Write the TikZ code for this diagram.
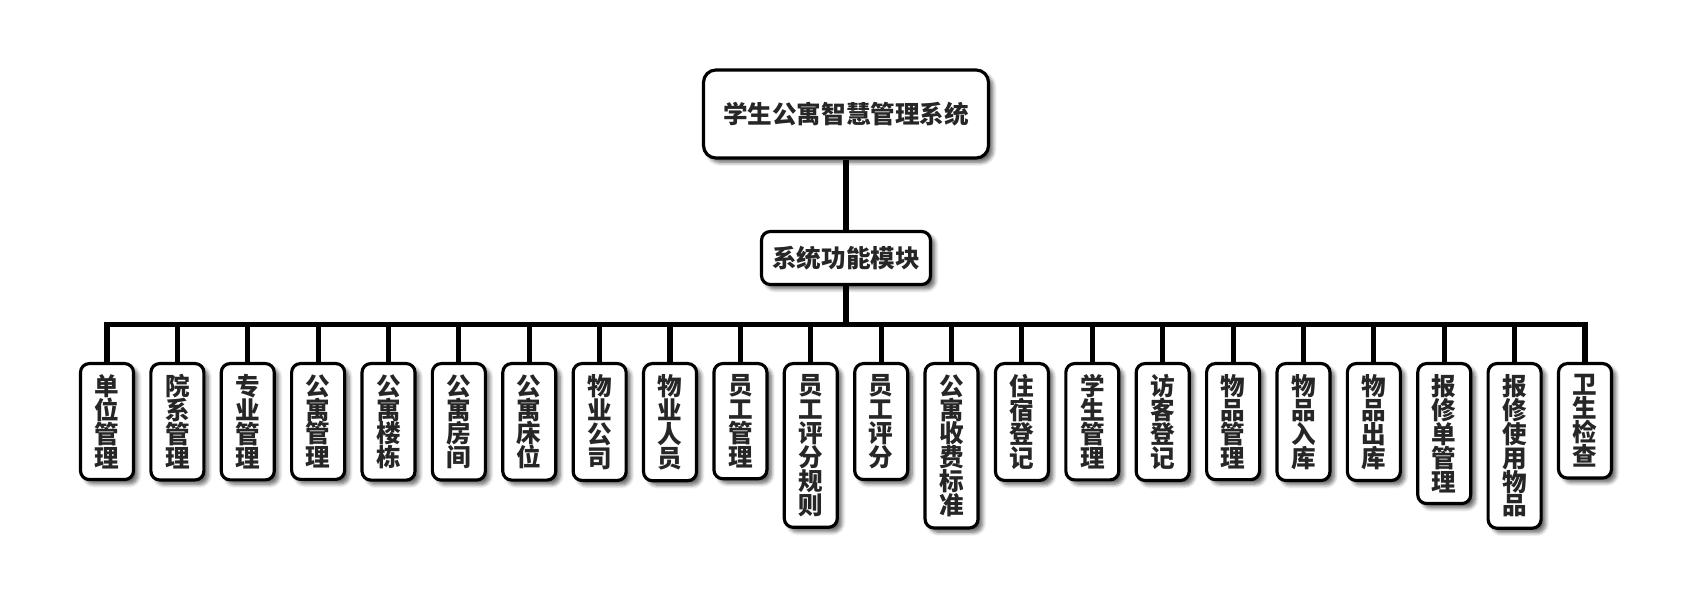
\documentclass[tikz,border=0pt]{standalone}
\usepackage{fontspec}
\setmainfont{Noto Sans CJK SC}
\usepackage{tikz}
\usetikzlibrary{shadows.blur}
\tikzset{
	box/.style={draw=black,fill=white,line width=1.8pt,rounded corners=5pt,text=black!85,font=\fontsize{14pt}{13.6pt}\selectfont\bfseries,blur shadow={shadow xshift=2.5pt,shadow yshift=-2.5pt,shadow blur steps=6,shadow opacity=60}},
	leaf/.style={box,anchor=north,align=center,minimum width=1.06cm,inner xsep=0pt,inner ysep=6.2pt},
	link/.style={line width=2.9pt}
}

\begin{document}
\begin{tikzpicture}[x=0.02cm,y=-0.02cm]
	\useasboundingbox (0,0) rectangle (1691,607);
	\node [box,rounded corners=7pt,minimum width=5.7cm,minimum height=1.76cm] (root) at (846,114) {学生公寓智慧管理系统};
	\node [box,minimum width=3.38cm,minimum height=1.06cm] (mid) at (846,258) {系统功能模块};
	\draw [link] (root.south) -- (mid.north);
	\foreach \t [count=\i] in {单\\位\\管\\理,院\\系\\管\\理,专\\业\\管\\理,公\\寓\\管\\理,公\\寓\\楼\\栋,公\\寓\\房\\间,公\\寓\\床\\位,物\\业\\公\\司,物\\业\\人\\员,员\\工\\管\\理,员\\工\\评\\分\\规\\则,员\\工\\评\\分,公\\寓\\收\\费\\标\\准,住\\宿\\登\\记,学\\生\\管\\理,访\\客\\登\\记,物\\品\\管\\理,物\\品\\入\\库,物\\品\\出\\库,报\\修\\单\\管\\理,报\\修\\使\\用\\物\\品,卫\\生\\检\\查} {
		\node [leaf] (l\i) at ({107+70.38*(\i-1)},362) {\t};
		\draw [link] (mid.south) -- ++(0,38) -| (l\i.north);
	}
\end{tikzpicture}
\end{document}
